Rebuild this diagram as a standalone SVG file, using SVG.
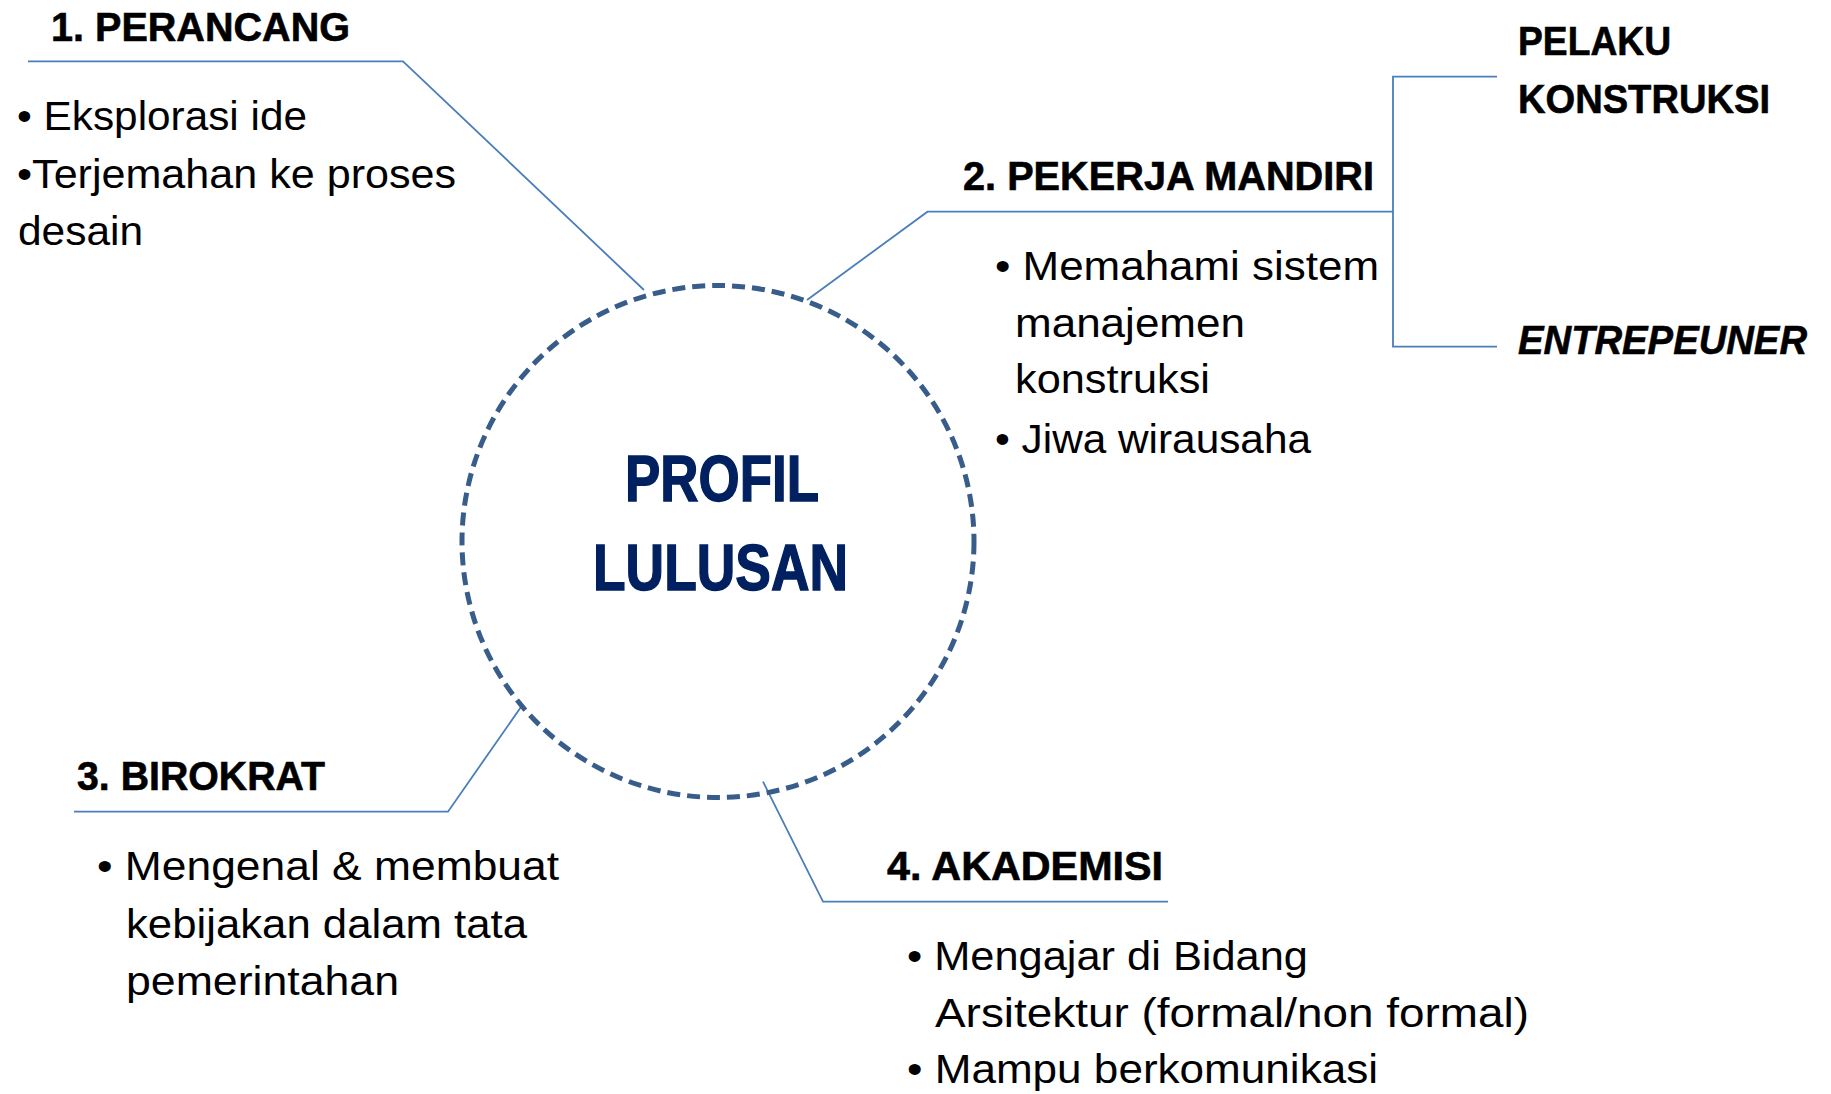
<svg xmlns="http://www.w3.org/2000/svg" width="1831" height="1094" viewBox="0 0 1831 1094">
<style>
.h{font-family:"Liberation Sans",Arial,sans-serif;font-weight:bold;font-size:40px;fill:#000;stroke:#000;stroke-width:0.6}
.b{font-family:"Liberation Sans",Arial,sans-serif;font-size:40px;fill:#000}
.c{font-family:"Liberation Sans",Arial,sans-serif;font-weight:bold;font-size:65px;fill:#002060;stroke:#002060;stroke-width:1.4}
.ln{fill:none;stroke:#4A7EBB;stroke-width:1.8}
</style>
<rect width="1831" height="1094" fill="#fff"/>
<g id="connectors">
<polyline class="ln" points="28,61.3 403,61.3 644,290"/>
<polyline class="ln" points="807,300 927.5,211.7 1393,211.7"/>
<polyline class="ln" points="1497,76.7 1393,76.7 1393,346.7 1497,346.7"/>
<polyline class="ln" points="522,705.5 448,811.7 74,811.7"/>
<polyline class="ln" points="763,781.7 823,901.7 1168,901.7"/>
</g>
<g id="center">
<circle cx="718" cy="541.5" r="256" fill="none" stroke="#385D8A" stroke-width="5" stroke-dasharray="13 7"/>
<text class="c" x="625" y="501" textLength="194" lengthAdjust="spacingAndGlyphs">PROFIL</text>
<text class="c" x="593" y="590" textLength="255" lengthAdjust="spacingAndGlyphs">LULUSAN</text>
</g>
<g id="perancang">
<text class="h" x="51" y="41" textLength="299" lengthAdjust="spacingAndGlyphs">1. PERANCANG</text>
<text class="b" x="17" y="130" textLength="290" lengthAdjust="spacingAndGlyphs">• Eksplorasi ide</text>
<text class="b" x="17" y="188" textLength="439" lengthAdjust="spacingAndGlyphs">•Terjemahan ke proses</text>
<text class="b" x="18" y="245" textLength="125" lengthAdjust="spacingAndGlyphs">desain</text>
</g>
<g id="pekerja-mandiri">
<text class="h" x="963" y="190" textLength="411" lengthAdjust="spacingAndGlyphs">2. PEKERJA MANDIRI</text>
<text class="b" x="995" y="280" textLength="384" lengthAdjust="spacingAndGlyphs">• Memahami sistem</text>
<text class="b" x="1015" y="336.7" textLength="230" lengthAdjust="spacingAndGlyphs">manajemen</text>
<text class="b" x="1015" y="393" textLength="195" lengthAdjust="spacingAndGlyphs">konstruksi</text>
<text class="b" x="995" y="453" textLength="316" lengthAdjust="spacingAndGlyphs">• Jiwa wirausaha</text>
</g>
<g id="pelaku-konstruksi">
<text class="h" x="1518" y="55" textLength="153" lengthAdjust="spacingAndGlyphs">PELAKU</text>
<text class="h" x="1518" y="113" textLength="252" lengthAdjust="spacingAndGlyphs">KONSTRUKSI</text>
</g>
<g id="entrepeuner">
<text class="h" x="1518" y="354" font-style="italic" textLength="289" lengthAdjust="spacingAndGlyphs">ENTREPEUNER</text>
</g>
<g id="birokrat">
<text class="h" x="77" y="790" textLength="248" lengthAdjust="spacingAndGlyphs">3. BIROKRAT</text>
<text class="b" x="97" y="880" textLength="462" lengthAdjust="spacingAndGlyphs">• Mengenal &amp; membuat</text>
<text class="b" x="126" y="938" textLength="401" lengthAdjust="spacingAndGlyphs">kebijakan dalam tata</text>
<text class="b" x="126" y="995" textLength="273" lengthAdjust="spacingAndGlyphs">pemerintahan</text>
</g>
<g id="akademisi">
<text class="h" x="887" y="880" textLength="276" lengthAdjust="spacingAndGlyphs">4. AKADEMISI</text>
<text class="b" x="907" y="970" textLength="401" lengthAdjust="spacingAndGlyphs">• Mengajar di Bidang</text>
<text class="b" x="935" y="1027" textLength="594" lengthAdjust="spacingAndGlyphs">Arsitektur (formal/non formal)</text>
<text class="b" x="907" y="1083" textLength="471" lengthAdjust="spacingAndGlyphs">• Mampu berkomunikasi</text>
</g>
</svg>
